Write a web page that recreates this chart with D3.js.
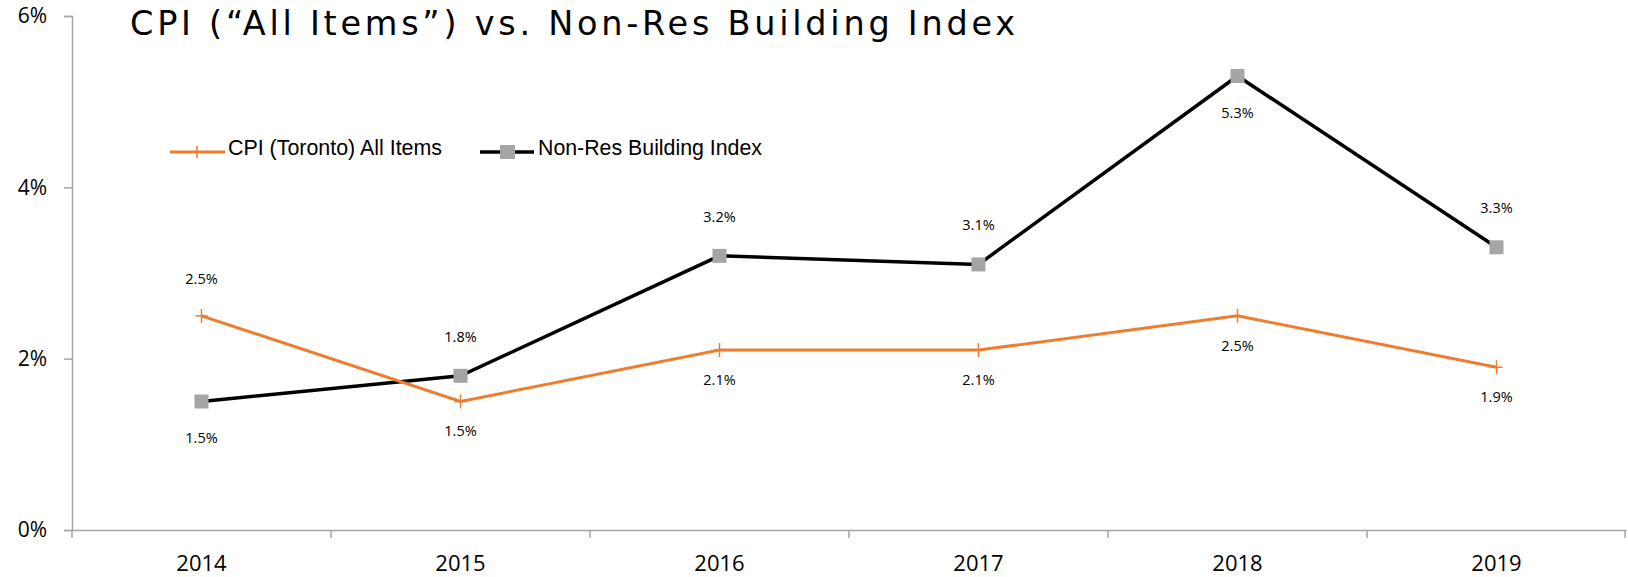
<!DOCTYPE html>
<html>
<head>
<meta charset="utf-8">
<script src="https://cdn.jsdelivr.net/npm/d3@7"></script>
<style>
  body { margin: 0; background: #fff; }
  svg { display: block; }
</style>
</head>
<body>
<svg id="chart" width="1628" height="577"></svg>
<script>
var years = ["2014", "2015", "2016", "2017", "2018", "2019"];
var cpiValues = [2.5, 1.5, 2.1, 2.1, 2.5, 1.9];
var nonResValues = [1.5, 1.8, 3.2, 3.1, 5.3, 3.3];
var yTicks = [0, 2, 4, 6];
var cpiLabelSide = ["above", "below", "below", "below", "below", "below"];
var nonResLabelSide = ["below", "above", "above", "above", "below", "above"];

var svg = d3.select("#chart");

var x = d3.scaleBand().domain(years).range([72, 1626]);
var y = d3.scaleLinear().domain([0, 6]).range([530, 16]);
var cx = function(d, i) { return x(years[i]) + x.bandwidth() / 2; };

// y axis
var yAxis = d3.axisLeft(y).tickValues(yTicks).tickSize(8).tickPadding(17)
    .tickFormat(function(d) { return d + "%"; });
var gy = svg.append("g").attr("transform", "translate(72,0)").call(yAxis);
gy.select(".domain").attr("stroke", "#a6a6a6").attr("stroke-width", 1.5);
gy.selectAll(".tick line").attr("stroke", "#a6a6a6").attr("stroke-width", 1.5);
gy.selectAll("text").attr("font-family", "'Open Sans', sans-serif").attr("font-size", 21).attr("fill", "#000");

// x axis
var xAxis = d3.axisBottom(x).tickSize(0).tickPadding(25);
var gx = svg.append("g").attr("transform", "translate(0,530)").call(xAxis);
gx.select(".domain").attr("stroke", "#a6a6a6").attr("stroke-width", 1.5);
gx.selectAll("text").attr("font-family", "'Open Sans', sans-serif").attr("font-size", 22).attr("fill", "#000");
// category boundary ticks
var bounds = years.map(function(d) { return x(d); }).concat([x.range()[1] - 1]);
gx.selectAll(".bound").data(bounds).enter().append("line")
    .attr("x1", function(d) { return d; }).attr("x2", function(d) { return d; })
    .attr("y1", 0).attr("y2", 8)
    .attr("stroke", "#a6a6a6").attr("stroke-width", 1.5);

// title
svg.append("text")
    .attr("x", 130).attr("y", 35)
    .attr("font-family", "'DejaVu Sans', sans-serif")
    .attr("font-size", 33.5)
    .attr("textLength", 885).attr("lengthAdjust", "spacing")
    .text("CPI (\u201CAll Items\u201D) vs. Non-Res Building Index");

var line = d3.line().x(cx).y(function(d) { return y(d); });

// lines
svg.append("path").datum(nonResValues).attr("d", line)
    .attr("fill", "none").attr("stroke", "#000").attr("stroke-width", 3.5);
svg.append("path").datum(cpiValues).attr("d", line)
    .attr("fill", "none").attr("stroke", "#ed7d31").attr("stroke-width", 3);

// non-res markers
svg.selectAll(".sq").data(nonResValues).enter().append("rect")
    .attr("x", function(d, i) { return cx(d, i) - 7; })
    .attr("y", function(d) { return y(d) - 7; })
    .attr("width", 14).attr("height", 14)
    .attr("fill", "#a5a5a5");

// cpi markers
var crosses = svg.selectAll(".cr").data(cpiValues).enter().append("g");
crosses.append("line")
    .attr("x1", function(d, i) { return cx(d, i) - 6; }).attr("x2", function(d, i) { return cx(d, i) + 6; })
    .attr("y1", function(d) { return y(d); }).attr("y2", function(d) { return y(d); })
    .attr("stroke", "#ed7d31").attr("stroke-width", 1.5);
crosses.append("line")
    .attr("x1", cx).attr("x2", cx)
    .attr("y1", function(d) { return y(d) - 7; }).attr("y2", function(d) { return y(d) + 7; })
    .attr("stroke", "#ed7d31").attr("stroke-width", 1.5);

// data labels
function labels(values, sides, upOff, downOff) {
  svg.selectAll(null).data(values).enter().append("text")
      .attr("x", cx)
      .attr("y", function(d, i) { return y(d) + (sides[i] == "above" ? upOff : downOff); })
      .attr("text-anchor", "middle")
      .attr("dominant-baseline", "middle")
      .attr("font-family", "'Open Sans', sans-serif")
      .attr("font-size", 14.5)
      .attr("fill", "#000")
      .text(function(d) { return d.toFixed(1) + "%"; });
}
labels(cpiValues, cpiLabelSide, -36, 31);
labels(nonResValues, nonResLabelSide, -38, 38);

// legend
var lg = svg.append("g");
lg.append("line").attr("x1", 170).attr("x2", 225).attr("y1", 152).attr("y2", 152)
    .attr("stroke", "#ed7d31").attr("stroke-width", 3);
lg.append("line").attr("x1", 197).attr("x2", 197).attr("y1", 146).attr("y2", 158)
    .attr("stroke", "#ed7d31").attr("stroke-width", 1.5);
lg.append("text").attr("x", 228).attr("y", 155)
    .attr("font-family", "'Liberation Sans', Arial, sans-serif")
    .attr("font-size", 22).attr("textLength", 214).attr("lengthAdjust", "spacingAndGlyphs")
    .text("CPI (Toronto) All Items");
lg.append("line").attr("x1", 480).attr("x2", 534).attr("y1", 152).attr("y2", 152)
    .attr("stroke", "#000").attr("stroke-width", 3.5);
lg.append("rect").attr("x", 500).attr("y", 145).attr("width", 15).attr("height", 14)
    .attr("fill", "#a5a5a5");
lg.append("text").attr("x", 538).attr("y", 155)
    .attr("font-family", "'Liberation Sans', Arial, sans-serif")
    .attr("font-size", 22).attr("textLength", 224).attr("lengthAdjust", "spacingAndGlyphs")
    .text("Non-Res Building Index");
</script>
</body>
</html>
